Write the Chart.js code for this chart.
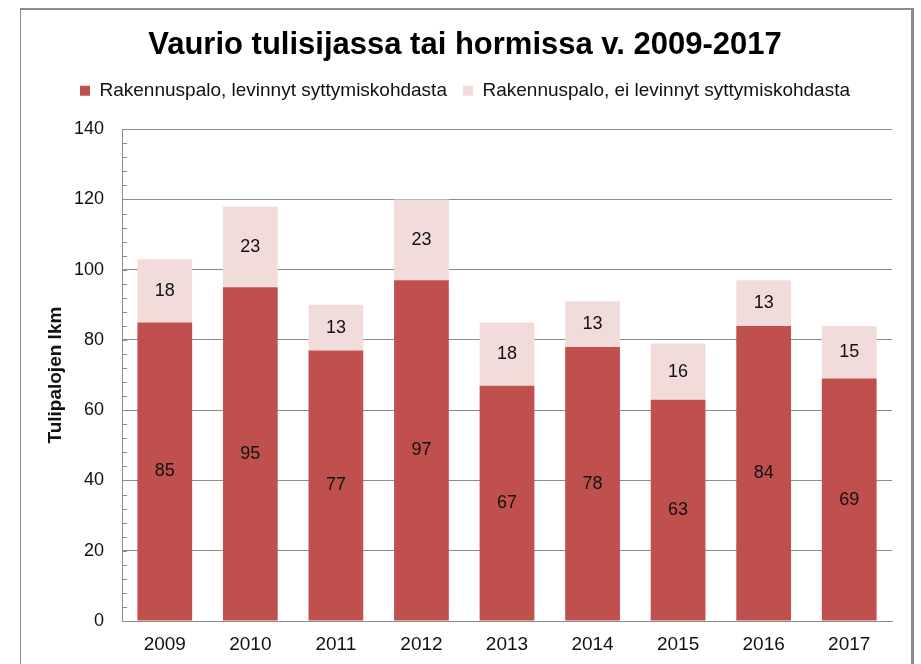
<!DOCTYPE html>
<html>
<head>
<meta charset="utf-8">
<script src="https://cdn.jsdelivr.net/npm/chart.js@4"></script>
<style>
  body { margin: 0; background: #fff; }
  #wrap { position: relative; width: 921px; height: 664px; }
  #frame {
    position: absolute; left: 20px; top: 8px; width: 890px; height: 700px;
    border-left: 1px solid #8c8c8c; border-top: 2px solid #8c8c8c; border-right: 3px solid #8c8c8c;
    pointer-events: none;
  }
</style>
</head>
<body>
<div id="wrap">
  <canvas id="chart" width="921" height="664"></canvas>
  <div id="frame"></div>
</div>
<script>
const years = ["2009", "2010", "2011", "2012", "2013", "2014", "2015", "2016", "2017"];
const levinnyt = [85, 95, 77, 97, 67, 78, 63, 84, 69];
const eiLevinnyt = [18, 23, 13, 23, 18, 13, 16, 13, 15];

const sans = "'Liberation Sans', Arial, sans-serif";

// values written in the middle of each bar segment
const barLabels = {
  id: "barLabels",
  afterDatasetsDraw(chart) {
    const ctx = chart.ctx;
    ctx.save();
    ctx.font = "18px " + sans;
    ctx.fillStyle = "#111";
    ctx.textAlign = "center";
    ctx.textBaseline = "middle";
    chart.data.datasets.forEach((ds, i) => {
      chart.getDatasetMeta(i).data.forEach((bar, j) => {
        ctx.fillText(ds.data[j], bar.x, (bar.y + bar.base) / 2);
      });
    });
    ctx.restore();
  }
};

// small minor tick marks on the inside of the value axis
const minorTicks = {
  id: "minorTicks",
  afterDraw(chart) {
    const y = chart.scales.y;
    const ctx = chart.ctx;
    ctx.save();
    ctx.strokeStyle = "#8c8c8c";
    ctx.lineWidth = 1;
    for (let v = 0; v <= 140; v += 4) {
      const py = Math.round(y.getPixelForValue(v)) + 0.5;
      ctx.beginPath();
      ctx.moveTo(y.right, py);
      ctx.lineTo(y.right + 5, py);
      ctx.stroke();
    }
    ctx.restore();
  }
};

// some room between the legend and the plot
const legendGap = {
  id: "legendGap",
  beforeInit(chart) {
    const fit = chart.legend.fit;
    chart.legend.fit = function () {
      fit.bind(chart.legend)();
      this.height += 19;
    };
  }
};

new Chart(document.getElementById("chart"), {
  type: "bar",
  data: {
    labels: years,
    datasets: [
      {
        label: "Rakennuspalo, levinnyt syttymiskohdasta",
        data: levinnyt,
        backgroundColor: "#C0504D",
        barPercentage: 0.64,
        categoryPercentage: 1
      },
      {
        label: "Rakennuspalo, ei levinnyt syttymiskohdasta",
        data: eiLevinnyt,
        backgroundColor: "#F2DCDB",
        barPercentage: 0.64,
        categoryPercentage: 1
      }
    ]
  },
  options: {
    responsive: false,
    animation: false,
    layout: { padding: { left: 38, right: 29, top: 27, bottom: 0 } },
    scales: {
      x: {
        stacked: true,
        grid: { display: false, drawTicks: false },
        border: { color: "#8c8c8c", width: 1 },
        ticks: { color: "#111", font: { family: sans, size: 19 }, padding: 12 },
        afterFit: (s) => { s.height = 43; }
      },
      y: {
        stacked: true,
        min: 0,
        max: 140,
        ticks: { stepSize: 20, color: "#111", font: { family: sans, size: 18 }, padding: 18 },
        grid: { color: "#8c8c8c", drawTicks: false },
        border: { color: "#8c8c8c", width: 1 },
        title: {
          display: true,
          text: "Tulipalojen lkm",
          color: "#111",
          font: { family: sans, size: 19, weight: "bold" },
          padding: { top: 6, bottom: 6 }
        },
        afterFit: (s) => { s.width = 84; }
      }
    },
    plugins: {
      title: {
        display: true,
        text: "Vaurio tulisijassa tai hormissa v. 2009-2017",
        color: "#000",
        font: { family: sans, size: 31, weight: "bold" },
        padding: { top: 0, bottom: 1 }
      },
      legend: {
        position: "top",
        labels: {
          color: "#111",
          font: { family: sans, size: 19 },
          boxWidth: 10,
          boxHeight: 10,
          padding: 16
        }
      },
      tooltip: { enabled: false }
    }
  },
  plugins: [barLabels, minorTicks, legendGap]
});
</script>
</body>
</html>
